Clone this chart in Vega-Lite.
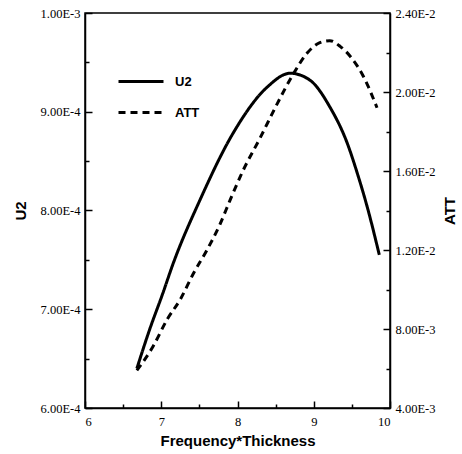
{
  "$schema": "https://vega.github.io/schema/vega-lite/v6.json",
  "width": 305,
  "height": 395,
  "autosize": {"type": "none"},
  "padding": {"left": 85, "top": 13, "right": 72, "bottom": 46},
  "background": "white",
  "config": {
    "view": {"stroke": "black", "strokeWidth": 1.5},
    "axis": {
      "grid": false,
      "domainColor": "black",
      "domainWidth": 1.5,
      "tickColor": "black",
      "tickWidth": 1.5,
      "labelFont": "Liberation Serif",
      "labelFontSize": 12.5,
      "labelColor": "black",
      "titleFont": "Liberation Sans",
      "titleFontWeight": "bold",
      "titleColor": "black",
      "titleFontSize": 15
    }
  },
  "data": {
    "values": [
      {"series": "U2", "ft": 6.68, "v": 0.000640},
      {"series": "U2", "ft": 6.85, "v": 0.000680},
      {"series": "U2", "ft": 7.02, "v": 0.000716},
      {"series": "U2", "ft": 7.15, "v": 0.000745},
      {"series": "U2", "ft": 7.51, "v": 0.000811},
      {"series": "U2", "ft": 7.94, "v": 0.000878},
      {"series": "U2", "ft": 8.39, "v": 0.000925},
      {"series": "U2", "ft": 8.69, "v": 0.000939},
      {"series": "U2", "ft": 8.95, "v": 0.000932},
      {"series": "U2", "ft": 9.21, "v": 0.000905},
      {"series": "U2", "ft": 9.44, "v": 0.000868},
      {"series": "U2", "ft": 9.57, "v": 0.000838},
      {"series": "U2", "ft": 9.70, "v": 0.000804},
      {"series": "U2", "ft": 9.86, "v": 0.000755},
      {"series": "ATT", "ft": 6.68, "v": 0.0059},
      {"series": "ATT", "ft": 6.89, "v": 0.0071},
      {"series": "ATT", "ft": 7.08, "v": 0.0085},
      {"series": "ATT", "ft": 7.25, "v": 0.0095},
      {"series": "ATT", "ft": 7.42, "v": 0.0108},
      {"series": "ATT", "ft": 7.60, "v": 0.0120},
      {"series": "ATT", "ft": 7.77, "v": 0.0133},
      {"series": "ATT", "ft": 7.90, "v": 0.0145},
      {"series": "ATT", "ft": 8.07, "v": 0.0160},
      {"series": "ATT", "ft": 8.30, "v": 0.0177},
      {"series": "ATT", "ft": 8.52, "v": 0.0194},
      {"series": "ATT", "ft": 8.73, "v": 0.0209},
      {"series": "ATT", "ft": 8.92, "v": 0.0220},
      {"series": "ATT", "ft": 9.08, "v": 0.0225},
      {"series": "ATT", "ft": 9.21, "v": 0.0226},
      {"series": "ATT", "ft": 9.35, "v": 0.0223},
      {"series": "ATT", "ft": 9.48, "v": 0.0218},
      {"series": "ATT", "ft": 9.65, "v": 0.0208},
      {"series": "ATT", "ft": 9.83, "v": 0.0192}
    ]
  },
  "encoding": {
    "x": {
      "field": "ft", "type": "quantitative",
      "scale": {"domain": [6, 10], "nice": false, "zero": false},
      "axis": {
        "title": "Frequency*Thickness",
        "values": [6, 6.5, 7, 7.5, 8, 8.5, 9, 9.5, 10],
        "labelExpr": "datum.value % 1 == 0 ? format(datum.value, 'd') : ''",
        "tickSize": {"condition": {"test": "datum.value % 1 == 0", "value": -7}, "value": -4},
        "labelPadding": 14,
        "titlePadding": 6
      }
    },
    "strokeDash": {
      "field": "series", "type": "nominal",
      "scale": {"domain": ["U2", "ATT"], "range": [[1, 0], [7, 5]]},
      "legend": {
        "title": null,
        "orient": "none",
        "legendX": 32,
        "legendY": 44.5,
        "symbolType": "stroke",
        "symbolSize": 2025,
        "symbolStrokeWidth": 3,
        "symbolStrokeColor": "black",
        "labelFont": "Liberation Sans",
        "labelFontWeight": "bold",
        "labelFontSize": 13,
        "labelColor": "black",
        "labelOffset": 10,
        "rowPadding": -13,
        "padding": 0
      }
    }
  },
  "layer": [
    {
      "transform": [{"filter": "datum.series == 'U2'"}],
      "mark": {"type": "line", "color": "black", "strokeWidth": 3, "interpolate": "monotone"},
      "encoding": {
        "y": {
          "field": "v", "type": "quantitative",
          "scale": {"domain": [0.0006, 0.001], "nice": false, "zero": false},
          "axis": {
            "title": "U2",
            "orient": "left",
            "values": [0.0006, 0.00065, 0.0007, 0.00075, 0.0008, 0.00085, 0.0009, 0.00095, 0.001],
            "labelExpr": "abs(datum.value*1e4 - round(datum.value*1e4)) < 1e-6 ? upper(format(datum.value, '.2e')) : ''",
            "tickSize": {"condition": {"test": "abs(datum.value*1e4 - round(datum.value*1e4)) < 1e-6", "value": -7}, "value": -4},
            "labelPadding": 12,
            "titlePadding": 12
          }
        }
      }
    },
    {
      "transform": [{"filter": "datum.series == 'ATT'"}],
      "mark": {"type": "line", "color": "black", "strokeWidth": 3, "interpolate": "monotone"},
      "encoding": {
        "y": {
          "field": "v", "type": "quantitative",
          "scale": {"domain": [0.004, 0.024], "nice": false, "zero": false},
          "axis": {
            "title": "ATT",
            "orient": "right",
            "titleAngle": -90,
            "values": [0.004, 0.006, 0.008, 0.010, 0.012, 0.014, 0.016, 0.018, 0.020, 0.022, 0.024],
            "labelExpr": "abs(datum.value*250 - round(datum.value*250)) < 1e-6 ? upper(format(datum.value, '.2e')) : ''",
            "tickSize": {"condition": {"test": "abs(datum.value*250 - round(datum.value*250)) < 1e-6", "value": -7}, "value": -4},
            "labelPadding": 12,
            "titlePadding": 23
          }
        }
      }
    }
  ],
  "resolve": {"scale": {"y": "independent"}}
}
